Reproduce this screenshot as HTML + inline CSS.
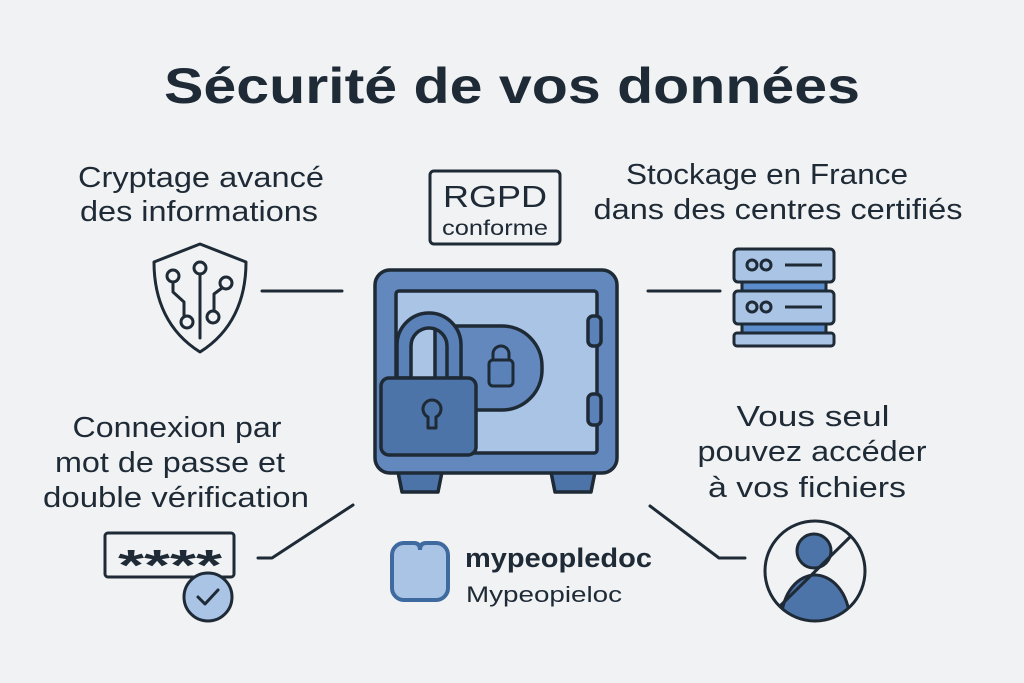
<!DOCTYPE html>
<html><head><meta charset="utf-8"><style>
html,body{margin:0;padding:0;background:#f1f2f3}
svg{display:block}
text{font-family:"Liberation Sans",sans-serif;fill:#1e2a36}
</style></head><body>
<svg width="1024" height="683" viewBox="0 0 1024 683" xmlns="http://www.w3.org/2000/svg">
<rect width="1024" height="683" fill="#f1f2f3"/>
<text x="512" y="103" font-size="50" font-weight="bold" text-anchor="middle" textLength="696" lengthAdjust="spacingAndGlyphs">Sécurité de vos données</text>
<g font-size="29" text-anchor="middle" lengthAdjust="spacingAndGlyphs">
<text x="201" y="187" textLength="246" lengthAdjust="spacingAndGlyphs">Cryptage avancé</text>
<text x="199" y="221" textLength="238" lengthAdjust="spacingAndGlyphs">des informations</text>
<text x="767" y="184" textLength="282" lengthAdjust="spacingAndGlyphs">Stockage en France</text>
<text x="778" y="219" textLength="369" lengthAdjust="spacingAndGlyphs">dans des centres certifiés</text>
<text x="177" y="437" textLength="209" lengthAdjust="spacingAndGlyphs">Connexion par</text>
<text x="170" y="472" textLength="230" lengthAdjust="spacingAndGlyphs">mot de passe et</text>
<text x="176" y="507" textLength="266" lengthAdjust="spacingAndGlyphs">double vérification</text>
<text x="813" y="426" textLength="153" lengthAdjust="spacingAndGlyphs">Vous seul</text>
<text x="812" y="461" textLength="229" lengthAdjust="spacingAndGlyphs">pouvez accéder</text>
<text x="807" y="497" textLength="198" lengthAdjust="spacingAndGlyphs">à vos fichiers</text>
</g>
<g fill="none" stroke="#1e2a36" stroke-width="3" stroke-linecap="round" stroke-linejoin="round">
<rect x="430" y="171" width="130" height="73" rx="4"/>
<line x1="262" y1="291" x2="342" y2="291"/>
<line x1="648" y1="291" x2="720" y2="291"/>
<polyline points="353,505 272,558 258,558"/>
<polyline points="650,506 719,558 745,558"/>
<path d="M200 244 L246 262 C246 300 232 332 200 352 C168 332 154 300 154 262 Z"/>
<line x1="200" y1="274" x2="200" y2="338"/>
<circle cx="200" cy="268" r="6"/>
<circle cx="173" cy="276" r="6"/>
<polyline points="173,282 173,292 184,302 184,316"/>
<circle cx="187" cy="322" r="6"/>
<circle cx="226" cy="283" r="6"/>
<polyline points="222,288 214,294 214,310"/>
<circle cx="213" cy="317" r="6"/>
</g>
<text x="495" y="207" font-size="31" text-anchor="middle" textLength="104" lengthAdjust="spacingAndGlyphs">RGPD</text>
<text x="495" y="235" font-size="21" text-anchor="middle" textLength="106" lengthAdjust="spacingAndGlyphs">conforme</text>
<g stroke="#1e2a36" stroke-width="3.5" stroke-linejoin="round">
<path d="M398 472 L442 472 L438 492 L402 492 Z" fill="#4d74a8"/>
<path d="M551 472 L595 472 L591 492 L555 492 Z" fill="#4d74a8"/>
<rect x="375" y="270" width="242" height="203" rx="15" fill="#6288bd"/>
<rect x="396" y="291" width="201" height="162" rx="3" fill="#a9c4e4"/>
<rect x="588" y="316" width="13" height="30" rx="5" fill="#5b82b8"/>
<rect x="588" y="394" width="13" height="31" rx="5" fill="#5b82b8"/>
<path d="M435 326 L502 326 A40 40 0 0 1 542 366 L542 370 A40 40 0 0 1 502 410 L435 410 Z" fill="#6288bd"/>
<path d="M493 360 L493 354 A8 8 0 0 1 509 354 L509 360" fill="none" stroke-width="3"/>
<rect x="489" y="360" width="24" height="26" rx="4" fill="#5b82b8" stroke-width="3"/>
<path d="M397 378 L397 345 A32 32 0 0 1 461 345 L461 378 L447 378 L447 346 A18 18 0 0 0 411 346 L411 378 Z" fill="#5b82b8"/>
<rect x="381" y="378" width="95" height="77" rx="8" fill="#4d74a8"/>
<path d="M428 428 L428 417 A9 9 0 1 1 436 417 L436 428 Z" fill="none" stroke-width="3"/>
</g>
<g stroke="#1e2a36" stroke-width="3" stroke-linejoin="round">
<rect x="742" y="280" width="84" height="13" fill="#5b8ccc"/>
<rect x="742" y="322" width="84" height="13" fill="#5b8ccc"/>
<rect x="734" y="249" width="100" height="33" rx="4" fill="#a9c4e4"/>
<rect x="734" y="291" width="100" height="33" rx="4" fill="#a9c4e4"/>
<rect x="734" y="333" width="100" height="13" rx="3" fill="#a9c4e4"/>
<circle cx="752" cy="265" r="5" fill="none"/><circle cx="766" cy="265" r="5" fill="none"/>
<line x1="785" y1="265" x2="822" y2="265"/>
<circle cx="752" cy="307" r="5" fill="none"/><circle cx="766" cy="307" r="5" fill="none"/>
<line x1="785" y1="307" x2="822" y2="307"/>
</g>
<defs><clipPath id="pc"><circle cx="815" cy="571" r="49"/></clipPath></defs>
<g stroke="#1e2a36" stroke-width="3">
<g clip-path="url(#pc)">
<path d="M781 625 C781 590 800 575 815 575 C830 575 850 590 850 625 Z" fill="#4d74a8"/>
</g>
<circle cx="814" cy="551" r="17" fill="#4d74a8"/>
<circle cx="815" cy="571" r="50" fill="none"/>
<line x1="850" y1="537" x2="780" y2="606"/>
</g>
<g stroke="#1e2a36" stroke-width="3">
<rect x="105" y="533" width="129" height="44" rx="3" fill="none"/>
<circle cx="208" cy="597" r="24" fill="#a9c4e4"/>
<polyline points="198,597 205,604 218,590" fill="none" stroke-linecap="round" stroke-linejoin="round"/>
</g>
<text x="118" y="580" font-size="44" font-weight="bold" textLength="104" lengthAdjust="spacingAndGlyphs">****</text>
<path d="M392 555 A12 12 0 0 1 404 543 L414 543 Q420 543 420 550 Q420 543 426 543 L436 543 A12 12 0 0 1 448 555 L448 588 A12 12 0 0 1 436 600 L404 600 A12 12 0 0 1 392 588 Z" fill="#a9c4e4" stroke="#3e6aa0" stroke-width="4"/>
<text x="465" y="567" font-size="27" font-weight="bold" textLength="187" lengthAdjust="spacingAndGlyphs">mypeopledoc</text>
<text x="466" y="602" font-size="22" textLength="156" lengthAdjust="spacingAndGlyphs">Mypeopieloc</text>
</svg>
</body></html>
